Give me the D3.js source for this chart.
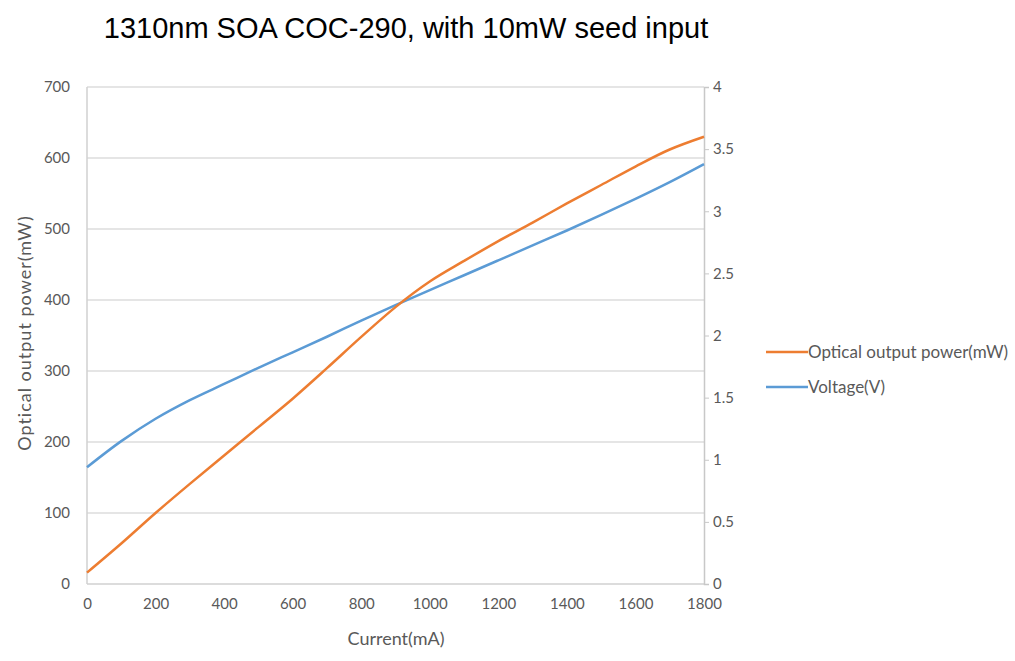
<!DOCTYPE html>
<html lang="en">
<head>
<meta charset="utf-8">
<script src="https://cdn.jsdelivr.net/npm/d3@7"></script>
<style>
  body { margin: 0; background: #fff; }
  text { font-family: Lato, "Open Sans", sans-serif; }
</style>
</head>
<body>
<div id="chart"></div>
<script>
// current (mA) samples
var current = [0, 100, 200, 300, 400, 500, 600, 700, 800, 900, 1000, 1100, 1200, 1300, 1400, 1500, 1600, 1700, 1800];
// optical output power (mW)
var power = [16, 57, 100, 141, 181, 221, 261, 304, 348, 390, 426, 455, 483, 509, 536, 562, 588, 612, 630];
// voltage (V)
var voltage = [0.94, 1.15, 1.33, 1.48, 1.61, 1.74, 1.865, 1.99, 2.12, 2.245, 2.365, 2.485, 2.605, 2.725, 2.845, 2.97, 3.10, 3.235, 3.38];

var leftTicks = [0, 100, 200, 300, 400, 500, 600, 700];
var rightTicks = [0, 0.5, 1, 1.5, 2, 2.5, 3, 3.5, 4];
var xTicks = [0, 200, 400, 600, 800, 1000, 1200, 1400, 1600, 1800];

var W = 1015, H = 661;
var pL = 87, pR = 704, pT = 87, pB = 584;

var svg = d3.select("#chart").append("svg")
    .attr("width", W).attr("height", H);

var x = d3.scaleLinear().domain([0, 1800]).range([pL, pR]);
var yL = d3.scaleLinear().domain([0, 700]).range([pB, pT]);
var yR = d3.scaleLinear().domain([0, 4]).range([pB, pT]);

// gridlines
svg.append("g")
    .selectAll("line")
    .data(leftTicks.slice(1))
    .enter().append("line")
    .attr("x1", pL).attr("x2", pR)
    .attr("y1", function (d) { return yL(d); })
    .attr("y2", function (d) { return yL(d); })
    .attr("stroke", "#dcdcdc").attr("stroke-width", 1.5);

// axis lines
svg.append("line").attr("x1", pL).attr("x2", pL).attr("y1", pT).attr("y2", pB)
    .attr("stroke", "#d0d0d0").attr("stroke-width", 1.5);
svg.append("line").attr("x1", pL).attr("x2", pR).attr("y1", pB).attr("y2", pB)
    .attr("stroke", "#d0d0d0").attr("stroke-width", 1.5);

var gL = svg.append("g").attr("transform", "translate(" + pL + ",0)")
    .call(d3.axisLeft(yL).tickValues(leftTicks).tickSize(0).tickPadding(17));
gL.select(".domain").remove();

var gR = svg.append("g").attr("transform", "translate(" + pR + ",0)")
    .call(d3.axisRight(yR).tickValues(rightTicks).tickSize(5).tickPadding(4).tickFormat(d3.format("")));

var gX = svg.append("g").attr("transform", "translate(0," + pB + ")")
    .call(d3.axisBottom(x).tickValues(xTicks).tickSize(0).tickPadding(14).tickFormat(d3.format("d")));
gX.select(".domain").remove();

svg.selectAll(".tick text").attr("fill", "#595959").style("font-size", "15px")
    .style("font-family", "Lato, 'Open Sans', sans-serif");
svg.selectAll(".tick line").attr("stroke", "#c8c8c8");
gR.select(".domain").attr("stroke", "#c8c8c8").attr("stroke-width", 1.5);

// lines
var lineP = d3.line()
    .x(function (d, i) { return x(current[i]); })
    .y(function (d) { return yL(d); })
    .curve(d3.curveCatmullRom);
var lineV = d3.line()
    .x(function (d, i) { return x(current[i]); })
    .y(function (d) { return yR(d); })
    .curve(d3.curveCatmullRom);

svg.append("path").datum(voltage).attr("d", lineV)
    .attr("fill", "none").attr("stroke", "#5b9bd5").attr("stroke-width", 2.5);
svg.append("path").datum(power).attr("d", lineP)
    .attr("fill", "none").attr("stroke", "#ed7d31").attr("stroke-width", 2.5);

// title
svg.append("text").attr("x", 406).attr("y", 38).attr("text-anchor", "middle")
    .style("font-family", "'Liberation Sans', Arial, sans-serif").style("font-size", "29px")
    .attr("fill", "#000").text("1310nm SOA COC-290, with 10mW seed input");

// axis titles
svg.append("text").attr("transform", "translate(31,333) rotate(-90)")
    .attr("text-anchor", "middle").style("font-size", "18px").style("letter-spacing", "1px")
    .attr("fill", "#595959")
    .text("Optical output power(mW)");
svg.append("text").attr("x", 396).attr("y", 645).attr("text-anchor", "middle")
    .style("font-size", "18px").attr("fill", "#595959").text("Current(mA)");

// legend
var legend = [
    { name: "Optical output power(mW)", color: "#ed7d31", y: 352 },
    { name: "Voltage(V)", color: "#5b9bd5", y: 387 }
];
var lg = svg.append("g").selectAll("g").data(legend).enter().append("g");
lg.append("line").attr("x1", 766).attr("x2", 808)
    .attr("y1", function (d) { return d.y; }).attr("y2", function (d) { return d.y; })
    .attr("stroke", function (d) { return d.color; }).attr("stroke-width", 2.5);
lg.append("text").attr("x", 808).attr("y", function (d) { return d.y + 6; })
    .style("font-size", "17px").attr("fill", "#595959")
    .text(function (d) { return d.name; });
</script>
</body>
</html>
